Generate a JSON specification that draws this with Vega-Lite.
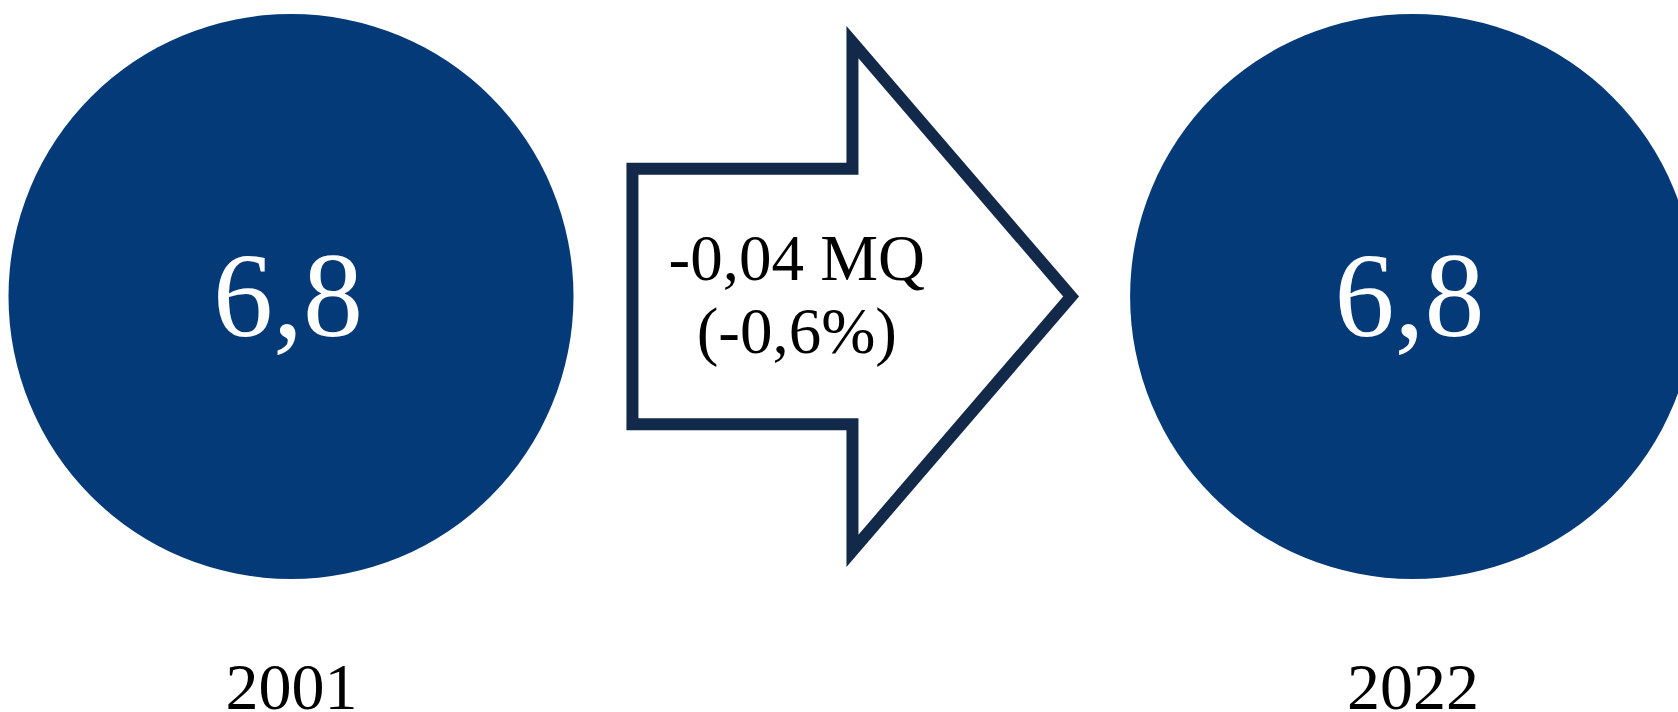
{
  "$schema": "https://vega.github.io/schema/vega-lite/v6.json",
  "width": 1678,
  "height": 593,
  "padding": {"left": 0, "top": 0, "right": 0, "bottom": 119},
  "autosize": {"type": "none"},
  "background": "white",
  "data": {
    "values": [
      {"period": "2001", "value": 6.8},
      {"period": "2001–2022", "change": -0.04, "changePct": -0.6},
      {"period": "2022", "value": 6.8}
    ]
  },
  "encoding": {
    "x": {
      "field": "period",
      "type": "ordinal",
      "scale": {"type": "point", "domain": ["2001", "2001–2022", "2022"], "range": [291, 1412.6], "padding": 0},
      "axis": {
        "orient": "bottom",
        "values": ["2001", "2022"],
        "title": null,
        "domain": false,
        "ticks": false,
        "grid": false,
        "labelAngle": 0,
        "labelFont": "Liberation Serif",
        "labelFontSize": 66,
        "labelColor": "#000000",
        "labelBaseline": "alphabetic",
        "labelPadding": 115,
        "labelOverlap": false,
        "labelBound": false,
        "encode": {
          "labels": {
            "update": {
              "dx": {"value": -4},
              "dy": {"signal": "datum.value === '2001' ? -5 : 0"}
            }
          }
        }
      }
    }
  },
  "layer": [
    {
      "transform": [{"filter": "isValid(datum.value)"}],
      "mark": {"type": "point", "filled": true, "opacity": 1, "fill": "#043A78", "strokeWidth": 0},
      "encoding": {
        "size": {
          "field": "value",
          "type": "quantitative",
          "scale": {"domain": [0, 6.8], "range": [0, 319225], "nice": false, "zero": true},
          "legend": null
        },
        "yOffset": {"condition": {"test": "datum.period === '2001'", "value": -4}, "value": 0}
      }
    },
    {
      "transform": [{"filter": "isValid(datum.value)"}],
      "mark": {
        "type": "text",
        "font": "Liberation Serif",
        "fontSize": 120,
        "color": "#FFFFFF",
        "align": "center",
        "baseline": "alphabetic",
        "dx": -3,
        "dy": 39
      },
      "encoding": {
        "text": {"field": "value", "type": "quantitative", "format": ".1f"},
        "yOffset": {"condition": {"test": "datum.period === '2001'", "value": -4}, "value": 0}
      }
    },
    {
      "transform": [{"filter": "isValid(datum.change)"}],
      "mark": {
        "type": "point",
        "filled": false,
        "fill": "#FFFFFF",
        "stroke": "#12294A",
        "strokeWidth": 12,
        "strokeJoin": "miter",
        "strokeMiterLimit": 10,
        "opacity": 1,
        "size": 258674,
        "shape": "M -0.8626 -0.502 L 0.0026 -0.502 L 0.0026 -1 L 0.8626 0 L 0.0026 1 L 0.0026 0.502 L -0.8626 0.502 Z"
      }
    },
    {
      "transform": [
        {"filter": "isValid(datum.change)"},
        {"calculate": "[format(datum.change, '.2f') + ' MQ', '(' + format(datum.changePct, '.1f') + '%)']", "as": "changeLabel"}
      ],
      "mark": {
        "type": "text",
        "font": "Liberation Serif",
        "fontSize": 65,
        "color": "#000000",
        "align": "center",
        "baseline": "alphabetic",
        "lineHeight": 73,
        "dx": -55,
        "dy": -16.5
      },
      "encoding": {
        "text": {"field": "changeLabel", "type": "nominal"}
      }
    }
  ],
  "config": {
    "view": {"stroke": null},
    "locale": {
      "number": {
        "decimal": ",",
        "thousands": ".",
        "grouping": [3],
        "currency": ["", " €"],
        "minus": "-"
      }
    }
  }
}
